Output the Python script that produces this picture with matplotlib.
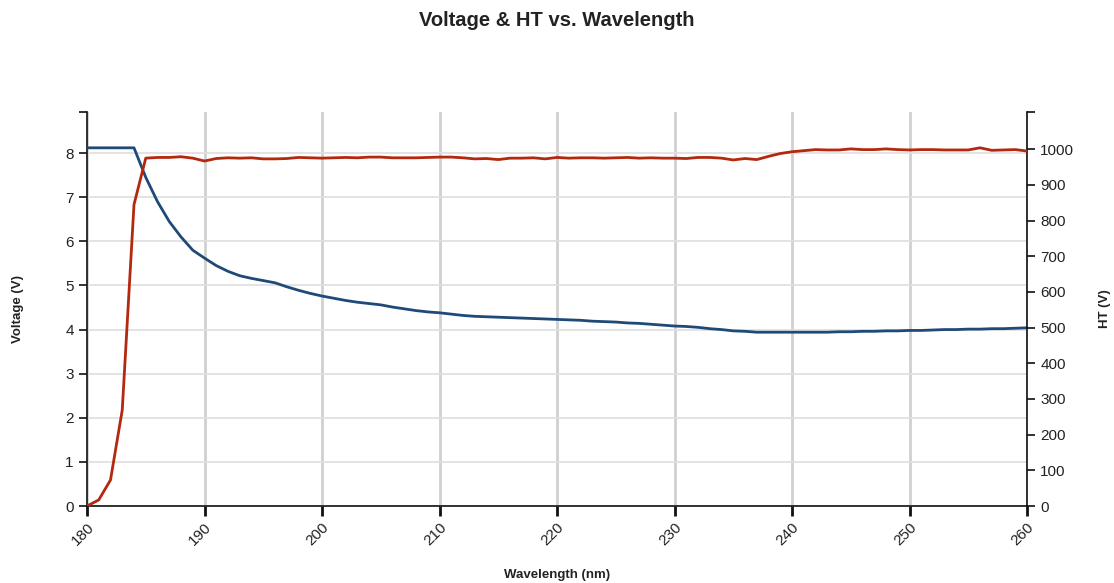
import matplotlib.pyplot as plt
from matplotlib.ticker import MultipleLocator

# data
wavelength = list(range(180, 261))
voltage = [8.12, 8.12, 8.12, 8.12, 8.12, 7.45, 6.90, 6.45, 6.10, 5.80,
           5.62, 5.45, 5.32, 5.22, 5.16, 5.11, 5.06, 4.97, 4.89, 4.82,
           4.76, 4.71, 4.66, 4.62, 4.59, 4.56, 4.51, 4.47, 4.43, 4.40,
           4.38, 4.35, 4.32, 4.30, 4.29, 4.28, 4.27, 4.26, 4.25, 4.24,
           4.23, 4.22, 4.21, 4.19, 4.18, 4.17, 4.15, 4.14, 4.12, 4.10,
           4.08, 4.07, 4.05, 4.02, 4.00, 3.97, 3.96, 3.94, 3.94, 3.94,
           3.94, 3.94, 3.94, 3.94, 3.95, 3.95, 3.96, 3.96, 3.97, 3.97,
           3.98, 3.98, 3.99, 4.00, 4.00, 4.01, 4.01, 4.02, 4.02, 4.03,
           4.04]
ht = [0, 17, 73, 269, 845, 975, 977, 977, 979, 975,
      967, 974, 976, 975, 976, 973, 973, 974, 977, 976,
      975, 976, 977, 976, 978, 978, 976, 976, 976, 977,
      978, 978, 976, 973, 974, 971, 975, 975, 976, 973,
      977, 975, 976, 976, 975, 976, 977, 975, 976, 975,
      975, 974, 977, 977, 975, 970, 974, 971, 980, 988,
      993, 996, 999, 998, 998, 1001, 999, 999, 1001, 999,
      998, 999, 999, 998, 998, 998, 1004, 997, 998, 999,
      995]

blue = '#1f4a78'
red = '#b3280e'
text_color = '#222222'

plt.rcParams['font.family'] = ['Liberation Sans', 'DejaVu Sans']

fig = plt.figure(figsize=(11.14, 5.83), dpi=100)
ax1 = fig.add_axes([87 / 1114, 77 / 583, 940 / 1114, 394 / 583])
ax2 = ax1.twinx()

ax1.plot(wavelength, voltage, color=blue, linewidth=2, zorder=3)
ax2.plot(wavelength, ht, color=red, linewidth=2, zorder=3)

vmax = max(voltage) * 1.1
hmax = max(ht) * 1.1
ax1.set_xlim(180, 260)
ax1.set_ylim(0, vmax)
ax2.set_ylim(0, hmax)

ax1.xaxis.set_major_locator(MultipleLocator(10))
ax1.set_yticks(range(0, 9))
ax2.set_yticks(range(0, 1001, 100))
# outer ticks at the top end of the y axes
ax1.set_yticks([vmax], minor=True)
ax2.set_yticks([hmax], minor=True)

# grid lines
ax1.grid(axis='x', color='#d0d0d0', linewidth=2, zorder=0)
ax1.grid(axis='y', which='major', color='#e0e0e0', linewidth=1.3, zorder=0)
ax1.set_axisbelow(True)

for ax in (ax1, ax2):
    ax.spines['top'].set_visible(False)
    for s in ('left', 'right', 'bottom'):
        ax.spines[s].set_color('#111111')
        ax.spines[s].set_linewidth(1.2)
    ax.tick_params(colors='#111111', labelcolor=text_color, labelsize=11, width=1.2, length=6)
    ax.tick_params(which='minor', colors='#111111', width=1.2, length=6)
ax1.spines['right'].set_visible(False)
ax2.spines['left'].set_visible(False)
ax2.spines['bottom'].set_visible(False)

ax1.tick_params(axis='x', width=2, length=7)
for lbl in ax1.get_xticklabels():
    lbl.set_rotation(45)
    lbl.set_ha('right')
    lbl.set_rotation_mode('anchor')

ax1.set_xlabel('Wavelength (nm)', fontsize=9.5, fontweight='bold', color=text_color)
ax1.xaxis.set_label_coords(0.5, (506 - 575) / 394)
ax1.xaxis.label.set_va('center')

ax1.set_ylabel('Voltage (V)', fontsize=9.5, fontweight='bold', color=text_color)
ax1.yaxis.set_label_coords((18 - 87) / 940, 0.5)
ax1.yaxis.label.set_va('center')

ax2.set_ylabel('HT (V)', fontsize=9.5, fontweight='bold', color=text_color, rotation=90)
ax2.yaxis.set_label_coords((1105 - 87) / 940, 0.5)
ax2.yaxis.label.set_va('center')

fig.text(0.5, 1 - 20 / 583, 'Voltage & HT vs. Wavelength', fontsize=14.5,
         fontweight='bold', color=text_color, ha='center', va='center')

plt.savefig('out.png', dpi=100)
